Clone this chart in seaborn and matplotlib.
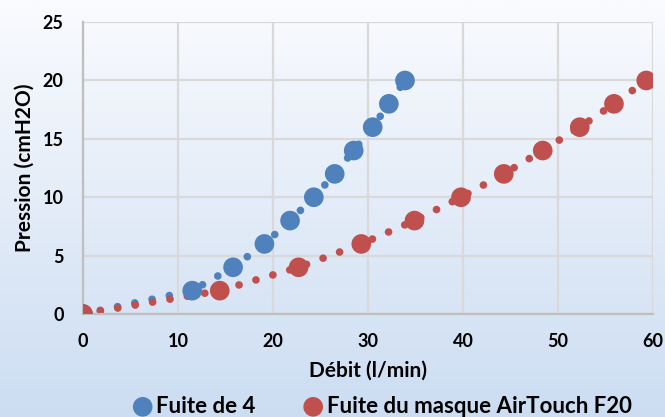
import numpy as np
import pandas as pd
import matplotlib
matplotlib.use("Agg")
import matplotlib.pyplot as plt
import seaborn as sns

# ===== Data =====
pressure = [0, 2, 4, 6, 8, 10, 12, 14, 16, 18, 20]
flow_fuite4 = [0, 11.5, 15.8, 19.1, 21.8, 24.3, 26.5, 28.5, 30.5, 32.2, 33.9]
flow_airtouch = [0, 14.4, 22.7, 29.3, 34.9, 39.8, 44.3, 48.4, 52.3, 55.9, 59.3]
series_names = ["Fuite de 4", "Fuite du masque AirTouch F20"]
colors = ["#4f81bd", "#c0504d"]

x_ticks = [0, 10, 20, 30, 40, 50, 60]
y_ticks = [0, 5, 10, 15, 20, 25]

df = pd.DataFrame({
    "debit": flow_fuite4 + flow_airtouch,
    "pression": pressure + pressure,
    "serie": [series_names[0]] * len(pressure) + [series_names[1]] * len(pressure),
})

sns.set_style("white")
plt.rcParams['font.family'] = ['Lato', 'DejaVu Sans']
plt.rcParams['font.weight'] = 'bold'
plt.rcParams['text.color'] = 'black'
plt.rcParams['axes.labelcolor'] = 'black'
plt.rcParams['xtick.color'] = 'black'
plt.rcParams['ytick.color'] = 'black'

fig = plt.figure(figsize=(6.65, 4.17), dpi=100)

# background gradient (near white at top -> light blue at bottom)
bg = fig.add_axes([0, 0, 1, 1], zorder=-10)
grad = np.linspace(0, 1, 256).reshape(-1, 1)
top = np.array([0xfa, 0xfb, 0xfe]) / 255
bot = np.array([0xcc, 0xdd, 0xf2]) / 255
img = top + (bot - top) * grad[:, :, None]
bg.imshow(img, aspect="auto", extent=[0, 1, 0, 1])
bg.axis("off")

ax = fig.add_axes([0.1248, 0.247, 0.857, 0.700])
ax.set_facecolor("none")

for name, col in zip(series_names, colors):
    sub = df[df["serie"] == name]
    sns.lineplot(data=sub, x="debit", y="pression", ax=ax, color=col,
                 linewidth=5.5, linestyle=(0, (0.01, 2.3)),
                 dash_capstyle="round", sort=False, legend=False)
    sns.scatterplot(data=sub, x="debit", y="pression", ax=ax, color=col,
                    s=200, edgecolor="none", label=name, zorder=5)

ax.set_xlim(0, 60)
ax.set_ylim(0, 25)
ax.set_xticks(x_ticks)
ax.set_yticks(y_ticks)
ax.grid(True, color="#d9d9d9", linewidth=1.6)
ax.set_axisbelow(True)
for s in ["top", "right"]:
    ax.spines[s].set_visible(False)
for s in ["left", "bottom"]:
    ax.spines[s].set_color("#bfbfbf")
    ax.spines[s].set_linewidth(1.6)
ax.tick_params(axis="y", length=0, labelsize=13, pad=14, colors="black")
ax.tick_params(axis="x", length=0, labelsize=13, pad=14, colors="black")
for lab in ax.get_xticklabels() + ax.get_yticklabels():
    lab.set_fontweight("bold")

ax.set_xlabel("Débit (l/min)", fontsize=15, fontweight="bold", labelpad=7, color="black")
ax.set_ylabel("Pression (cmH2O)", fontsize=15, fontweight="bold", labelpad=6, color="black")

ax.legend_.remove()
handles, labels = ax.get_legend_handles_labels()
leg = fig.legend(handles, labels, loc="center", bbox_to_anchor=(0.572, 0.026), ncol=2,
                 frameon=False, handletextpad=0.0, columnspacing=2.0,
                 handlelength=1.2, prop={"weight": "bold", "size": 16})
for t in leg.get_texts():
    t.set_color("black")

fig.savefig("out.png", dpi=100)
